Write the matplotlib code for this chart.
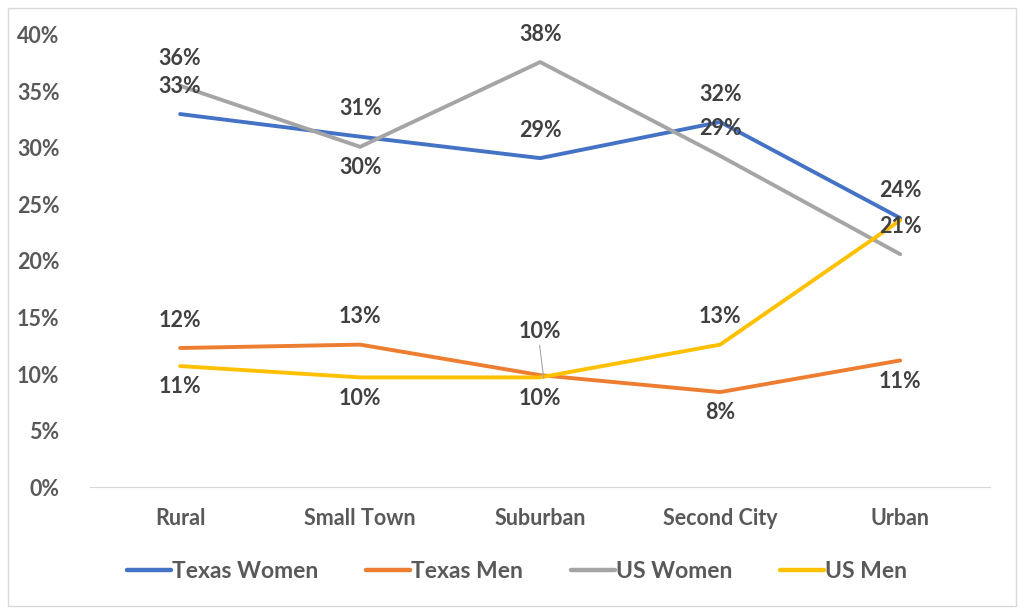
import matplotlib.pyplot as plt
from matplotlib.patches import Rectangle

plt.rcParams['font.family'] = ['Lato', 'DejaVu Sans']

categories = ['Rural', 'Small Town', 'Suburban', 'Second City', 'Urban']
texas_women = [33.0, 31.0, 29.1, 32.3, 23.8]
texas_men = [12.3, 12.6, 9.9, 8.4, 11.2]
us_women = [35.5, 30.1, 37.6, 29.3, 20.6]
us_men = [10.7, 9.7, 9.7, 12.6, 23.6]

tw_labels = ['33%', '31%', '29%', '32%', '24%']
tm_labels = ['12%', '13%', '10%', '8%', '11%']
uw_labels = ['36%', '30%', '38%', '29%', '21%']
um_labels = ['11%', '10%', '10%', '13%', '24%']

# +1 above the point, -1 below
tw_pos = [1, 1, 1, 1, 1]
tm_pos = [1, 1, 1, -1, -1]
uw_pos = [1, -1, 1, 1, 1]
um_pos = [-1, -1, -1, 1, 1]

fig = plt.figure(figsize=(10.24, 6.13), dpi=100)
ax = fig.add_axes([0.088, 0.2055, 0.879, 0.7375])
fig.add_artist(Rectangle((0.008, 0.012), 0.984, 0.975, transform=fig.transFigure,
                         fill=False, edgecolor='#d9d9d9', linewidth=1))

x = list(range(len(categories)))
series = [
    ('Texas Women', texas_women, tw_labels, tw_pos, '#4472C4'),
    ('Texas Men', texas_men, tm_labels, tm_pos, '#ED7D31'),
    ('US Women', us_women, uw_labels, uw_pos, '#A5A5A5'),
    ('US Men', us_men, um_labels, um_pos, '#FFC000'),
]

fs = 15.5

for name, vals, labs, pos, col in series:
    ax.plot(x, vals, color=col, linewidth=2.8, label=name, solid_capstyle='round')
    for i, (v, lab, p) in enumerate(zip(vals, labs, pos)):
        dy = 20 if p > 0 else -15
        if name == 'Texas Men' and i == 2:
            # label pushed up with a leader line
            ax.annotate(lab, (i, v), xytext=(0, 24), textcoords='offset points',
                        ha='center', va='bottom', fontsize=fs, fontweight='bold',
                        color='#404040')
            ax.annotate('', (i + 0.02, v - 0.3), xytext=(-3, 24), textcoords='offset points',
                        arrowprops=dict(arrowstyle='-', color='#a5a5a5', lw=0.8,
                                        shrinkA=0, shrinkB=0))
            continue
        if name == 'US Men' and i == 4:
            continue  # hidden behind the Texas Women label
        ax.annotate(lab, (i, v), xytext=(0, dy), textcoords='offset points',
                    ha='center', va='center', fontsize=fs, fontweight='bold',
                    color='#404040')

ax.set_xlim(-0.5, 4.5)
ax.set_ylim(0, 40)
ax.set_xticks(x)
ax.set_xticklabels(categories)
ax.set_yticks(range(0, 41, 5))
ax.set_yticklabels([f'{t}%' for t in range(0, 41, 5)])
ax.tick_params(axis='both', length=0, labelsize=fs, labelcolor='#595959')
ax.tick_params(axis='x', pad=15)
ax.tick_params(axis='y', pad=22)
for lab in ax.get_xticklabels() + ax.get_yticklabels():
    lab.set_fontweight('bold')
for s in ['top', 'right', 'left']:
    ax.spines[s].set_visible(False)
ax.spines['bottom'].set_color('#d9d9d9')

leg = fig.legend(loc='center', bbox_to_anchor=(0.505, 0.068), ncol=4, frameon=False,
                 fontsize=16.5, handlelength=1.9, handletextpad=0.05, columnspacing=2.1)
for t in leg.get_texts():
    t.set_color('#595959')
    t.set_fontweight('bold')
for h in leg.get_lines():
    h.set_linewidth(3.2)

plt.savefig('out.png', dpi=100)
